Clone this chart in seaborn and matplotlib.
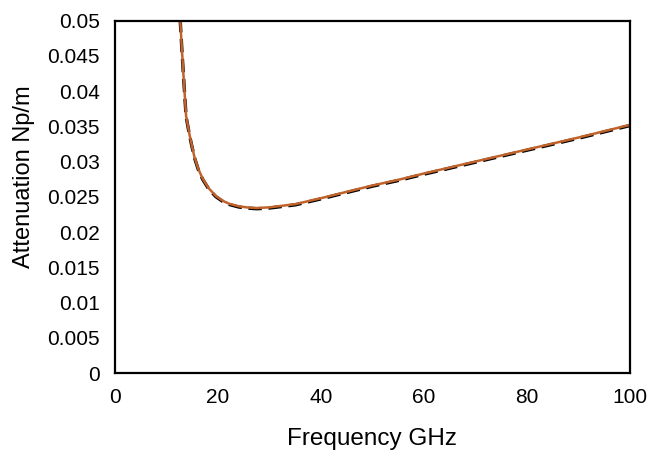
import matplotlib
matplotlib.use("Agg")
import matplotlib.pyplot as plt
import seaborn as sns
import pandas as pd

freq_ghz = [12.4, 12.67, 13.0, 13.25, 13.8, 14.5, 15.4, 16.2, 17.0, 18.2, 19.6, 21.0,
            22.2, 24.0, 25.5, 27.5, 30, 35, 40, 45, 50, 55, 60, 65, 70, 75, 80, 85,
            90, 95, 100]
atten_sim = [0.0560, 0.0500, 0.0458, 0.0428, 0.0365, 0.0337, 0.0307, 0.0289, 0.0276,
             0.0262, 0.0251, 0.0244, 0.0240, 0.02365, 0.02350, 0.02340, 0.02350,
             0.02395, 0.0248, 0.0257, 0.0266, 0.0274, 0.0283, 0.02915, 0.0300,
             0.03085, 0.0317, 0.03255, 0.0334, 0.0343, 0.0352]
atten_theory = [0.0558, 0.0499, 0.0457, 0.0427, 0.0364, 0.0336, 0.0306, 0.0288, 0.0275,
                0.0261, 0.0250, 0.0243, 0.0239, 0.02355, 0.02340, 0.02330, 0.02340,
                0.02385, 0.0247, 0.0256, 0.0265, 0.0273, 0.0282, 0.02905, 0.0299,
                0.03075, 0.0316, 0.03245, 0.0333, 0.0342, 0.0351]

xticks = [0, 20, 40, 60, 80, 100]
yticks = [0, 0.005, 0.01, 0.015, 0.02, 0.025, 0.03, 0.035, 0.04, 0.045, 0.05]
ytick_labels = ["0", "0.005", "0.01", "0.015", "0.02", "0.025", "0.03", "0.035",
                "0.04", "0.045", "0.05"]

sns.set_theme(style="white")
plt.rcParams['font.family'] = ['Liberation Sans', 'DejaVu Sans']

df = pd.DataFrame({"freq": freq_ghz, "sim": atten_sim, "theory": atten_theory})

fig = plt.figure(figsize=(6.49, 4.5), dpi=100)
ax = fig.add_axes([0.1772, 0.1711, 0.7935, 0.7833])

sns.lineplot(data=df, x="freq", y="theory", ax=ax, color="black", linewidth=2.4,
             linestyle=(0, (4, 2)), sort=False)
sns.lineplot(data=df, x="freq", y="sim", ax=ax, color="#C0622A", linewidth=1.8,
             sort=False)

ax.set_xlim(0, 100)
ax.set_ylim(0, 0.05)
ax.set_xticks(xticks)
ax.set_xticklabels([str(t) for t in xticks])
ax.set_yticks(yticks)
ax.set_yticklabels(ytick_labels)
ax.tick_params(axis='both', length=0, labelsize=15, colors="black")
ax.tick_params(axis='x', pad=11)
ax.tick_params(axis='y', pad=11)
for s in ax.spines.values():
    s.set_color("black")
    s.set_linewidth(1.6)
ax.set_xlabel("Frequency GHz", fontsize=17.5, color="black", labelpad=15)
ax.set_ylabel("Attenuation Np/m", fontsize=17, color="black")
ax.yaxis.set_label_coords(-0.155, 0.557)
ax.grid(False)

fig.savefig("out.png", dpi=100)
